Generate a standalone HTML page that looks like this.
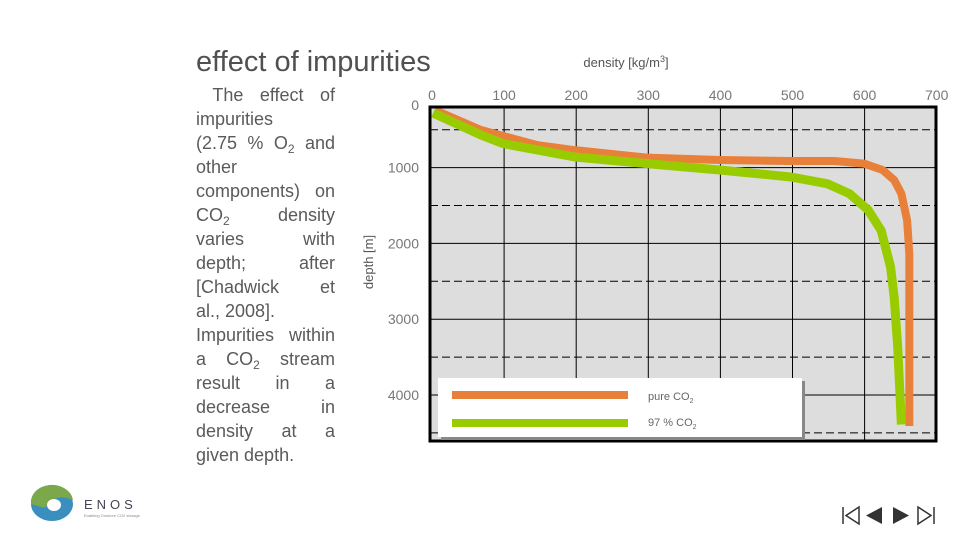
<!DOCTYPE html>
<html><head><meta charset="utf-8">
<style>
body{margin:0;width:960px;height:540px;background:#fff;overflow:hidden;position:relative;font-family:"Liberation Sans",sans-serif;color:#5a5a5a}
#title{position:absolute;left:196px;top:46px;font-size:29px;color:#505050}
#body{position:absolute;left:196px;top:83px;width:139px;font-size:18px;line-height:24px;color:#5a5a5a}
#body div{height:24px;text-align:justify;text-align-last:justify;white-space:nowrap}
#body div.last{text-align-last:left}
sub{font-size:12px;line-height:0;vertical-align:-4px}
svg{position:absolute;left:0;top:0}
</style></head><body>
<div id="title">effect of impurities</div>
<div id="body">
<div>&nbsp;The effect of</div>
<div class="last">impurities</div>
<div>(2.75 % O<sub>2</sub> and</div>
<div class="last">other</div>
<div>components) on</div>
<div>CO<sub>2</sub> density</div>
<div>varies with</div>
<div>depth; after</div>
<div>[Chadwick et</div>
<div class="last">al., 2008].</div>
<div>Impurities within</div>
<div>a CO<sub>2</sub> stream</div>
<div>result in a</div>
<div>decrease in</div>
<div>density at a</div>
<div class="last">given depth.</div>
</div>
<svg id="chart" width="960" height="540"></svg>
<script>
const xTicks=[0,100,200,300,400,500,600,700];
const yTicks=[0,1000,2000,3000,4000];
const pureDensity=[4,68,146,198,298,399,498,558,599,625,641,651,659,662,662,662];
const pureDepth=[240,504,703,770,868,900,913,913,947,1032,1164,1344,1698,2140,2932,4409];
const impDensity=[1.5,68,98,198,298,399,498,548,579,605,623,636,641,646,651];
const impDepth=[280,570,682,860,947,1032,1124,1212,1344,1560,1830,2311,2707,3375,4389];
const NS='http://www.w3.org/2000/svg';
const svg=document.getElementById('chart');
const X=v=>432+v*0.721;
const Y=d=>91.8+d*0.0758;
const L=430,R=936,T=107,B=441;
function mk(t,a,p){const e=document.createElementNS(NS,t);for(const k in a)e.setAttribute(k,a[k]);(p||svg).appendChild(e);return e;}
const bg=mk('rect',{x:L,y:T,width:R-L,height:B-T,fill:'#dddddd'});


xTicks.slice(1,7).forEach(v=>{const l=mk('line',{x1:X(v),x2:X(v),y1:T,y2:B,stroke:'#000','stroke-width':1});

});
[500,1500,2500,3500,4500].forEach(d=>{const l=mk('line',{x1:L,x2:R,y1:Y(d),y2:Y(d),stroke:'#000','stroke-width':1,'stroke-dasharray':'8,4'});

});
yTicks.slice(1).forEach(d=>{const l=mk('line',{x1:L,x2:R,y1:Y(d),y2:Y(d),stroke:'#000','stroke-width':1});

});
function series(xs,ys,col,w,name){const p=mk('polyline',{points:xs.map((v,i)=>X(v)+','+Y(ys[i])).join(' '),fill:'none',stroke:col,'stroke-width':w,'stroke-linejoin':'round'});

}
series(pureDensity,pureDepth,'#e8803a',8,'pure-co2-line');
series(impDensity,impDepth,'#99cc00',9,'97-co2-line');
const fr=mk('rect',{x:L,y:T,width:R-L,height:B-T,fill:'none',stroke:'#000','stroke-width':3});


xTicks.forEach(v=>{const t=mk('text',{x:X(v),y:100,'font-size':14,fill:'#777','text-anchor':'middle'});t.textContent=v;

});
yTicks.forEach(d=>{const t=mk('text',{x:419,y:Math.max(Y(d),105)+5,'font-size':14,fill:'#777','text-anchor':'end'});t.textContent=d;

});
const xt=mk('text',{x:626,y:67,'font-size':13,fill:'#555','text-anchor':'middle'});xt.innerHTML='density [kg/m<tspan font-size="9" dy="-5">3</tspan><tspan dy="5">]</tspan>';


const yt=mk('text',{x:0,y:0,'font-size':13,fill:'#555','text-anchor':'middle',transform:'translate(373,262) rotate(-90)'});yt.textContent='depth [m]';


const lg=mk('g',{});


mk('rect',{x:441,y:381,width:364,height:59,fill:'#888'},lg);
mk('rect',{x:438,y:378,width:364,height:59,fill:'#fff'},lg);
mk('line',{x1:452,x2:628,y1:395,y2:395,stroke:'#e8803a','stroke-width':8},lg);
mk('line',{x1:452,x2:628,y1:423,y2:423,stroke:'#99cc00','stroke-width':8},lg);
const t1=mk('text',{x:648,y:400,'font-size':11,fill:'#666'},lg);t1.innerHTML='pure CO<tspan font-size="7" dy="3">2</tspan>';


const t2=mk('text',{x:648,y:426,'font-size':11,fill:'#666'},lg);t2.innerHTML='97 % CO<tspan font-size="7" dy="3">2</tspan>';


</script>
<svg width="960" height="540" style="pointer-events:none">
<g>
<ellipse cx="52" cy="504" rx="21" ry="17" fill="#3a8fbf"/>
<path d="M31 504 A21 17 0 0 1 73 500 Q55 492 45 508 Z" fill="#7aa84a"/>
<ellipse cx="54" cy="505" rx="7" ry="6" fill="#fff"/>
<text x="84" y="509" font-size="13" fill="#445" letter-spacing="4" font-family="Liberation Sans">ENOS</text>
<text x="84" y="517" font-size="4" fill="#888" font-family="Liberation Sans">Enabling Onshore CO2 storage</text>
</g>
<g fill="none" stroke="#333" stroke-width="1.5">
<line x1="843" y1="507" x2="843" y2="524"/><polygon points="859,507 859,524 846,515.5"/></g>
<polygon points="882,507 882,524 866,515.5" fill="#333"/>
<polygon points="893,507 893,524 909,515.5" fill="#333"/>
<g fill="none" stroke="#333" stroke-width="1.5">
<polygon points="918,507 918,524 931,515.5"/><line x1="934" y1="507" x2="934" y2="524"/></g>
</svg>
</body></html>
